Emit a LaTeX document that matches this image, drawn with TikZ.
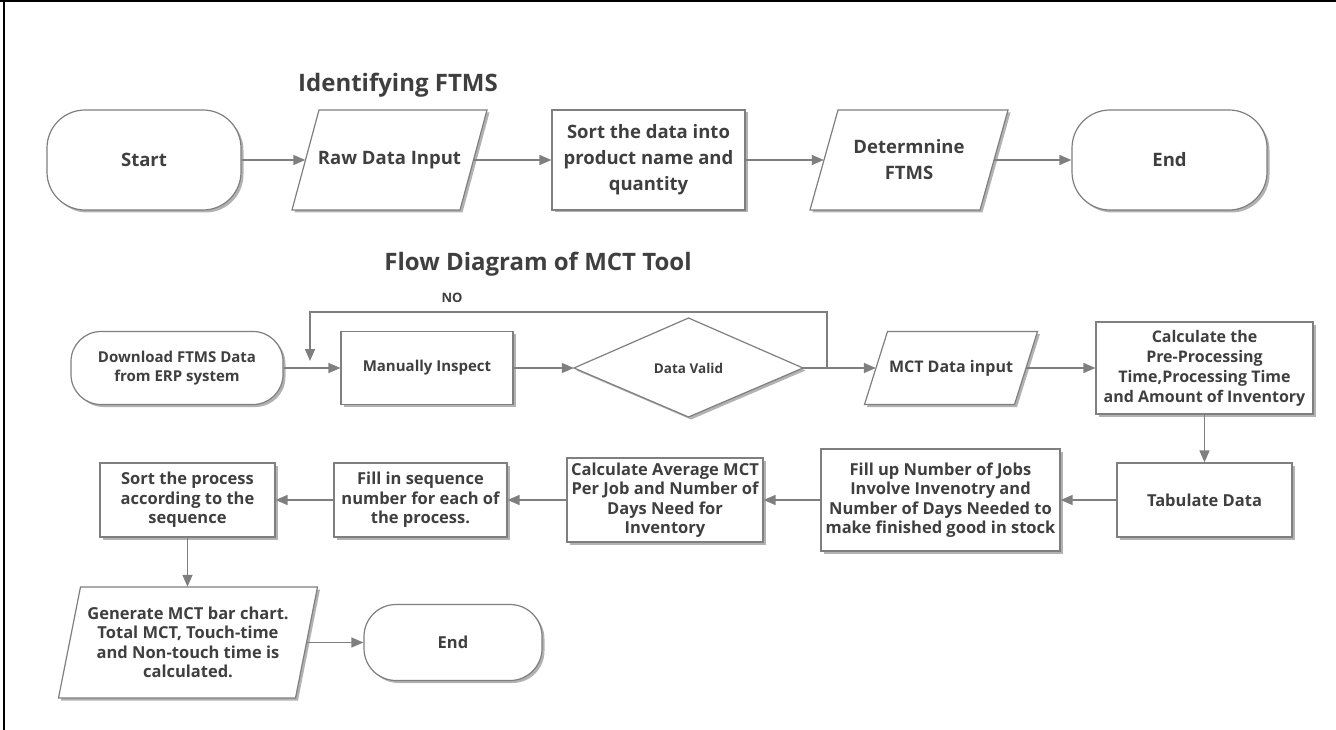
\documentclass[tikz,border=0pt]{standalone}
\usepackage{fontspec}
\setmainfont{Open Sans}
\usetikzlibrary{arrows.meta,shadows}
\definecolor{ln}{HTML}{7F7F7F}
\definecolor{tx}{HTML}{3F3F3F}
\tikzset{
  shd/.style={drop shadow={shadow xshift=2.5pt,shadow yshift=-2.5pt,opacity=0.3,fill=black}},
  boxline/.style={draw=ln, line width=1.2pt, fill=white},
  pbox/.style={boxline, shd, rectangle, align=center, inner sep=0pt, text=tx, font=\bfseries},
  term/.style={pbox, rounded corners=38pt},
  ghost/.style={rectangle, inner sep=0pt, align=center, text=tx, font=\bfseries},
  arr/.style={draw=ln, line width=1.4pt, -{Triangle[length=12pt,width=10pt]}},
  toprow/.style={font=\bfseries\fontsize{18.5}{26}\selectfont},
  midrow/.style={font=\bfseries\fontsize{16}{20}\selectfont},
  lowrow/.style={font=\bfseries\fontsize{16.5}{19.5}\selectfont},
  ttl/.style={text=tx, inner sep=0pt, font=\bfseries\fontsize{24}{28}\selectfont},
}
\newcommand\pgram[8]{%
  \draw[boxline,shd] ({#2-#4/2-#6/2},{#3+#5/2}) -- ({#2+#4/2-#6/2},{#3+#5/2}) -- ({#2+#4/2+#6/2},{#3-#5/2}) -- ({#2-#4/2+#6/2},{#3-#5/2}) -- cycle;
  \node[ghost,#7,minimum width=#4pt,minimum height=#5pt] (#1) at (#2,#3) {#8};}
\begin{document}
\begin{tikzpicture}[x=1pt,y=-1pt]
\useasboundingbox (0,0) rectangle (1336,730);
\fill[white] (0,0) rectangle (1336,730);
\draw[line width=1.5pt] (0,1) -- (1336,1);
\draw[line width=1.5pt] (4,0) -- (4,730);

% ---- Identifying FTMS ----
\node[ttl] (t1) at (398,85) {Identifying FTMS};
\node[term,toprow,minimum width=194pt,minimum height=100pt] (start) at (144,160) {Start};
\pgram{raw}{389.5}{160}{168}{100}{27}{toprow}{Raw Data Input}
\node[pbox,toprow,minimum width=193pt,minimum height=100pt] (sortd) at (648.5,160) {Sort the data into\\product name and\\quantity};
\pgram{det}{909}{160}{170}{100}{28}{toprow}{Determnine\\FTMS}
\node[term,toprow,minimum width=195pt,minimum height=100pt] (end1) at (1169.5,160) {End};
\draw[arr] (start) -- (raw);
\draw[arr] (raw) -- (sortd);
\draw[arr] (sortd) -- (det);
\draw[arr] (det) -- (end1);

% ---- Flow Diagram of MCT Tool ----
\node[ttl] (t2) at (538,264) {Flow Diagram of MCT Tool};
\node[text=tx,inner sep=0pt,font=\bfseries\fontsize{13}{15}\selectfont] (no) at (452,298) {NO};
\node[term,rounded corners=30pt,font=\bfseries\fontsize{15}{19}\selectfont,minimum width=212pt,minimum height=73pt] (dl) at (177,368) {Download FTMS Data\\from ERP system};
\node[pbox,font=\bfseries\fontsize{15}{18}\selectfont,minimum width=172pt,minimum height=73pt] (mi) at (427,368) {Manually Inspect};
\draw[boxline,shd] (574,368) -- (688.5,318) -- (803,368) -- (688.5,417) -- cycle;
\node[ghost,font=\bfseries\fontsize{13.5}{16}\selectfont,minimum width=229pt,minimum height=99pt] (dv) at (688.5,368) {Data Valid};
\pgram{mct}{951}{368}{150}{73}{23}{font=\bfseries\fontsize{16}{20}\selectfont}{MCT Data input}
\node[pbox,midrow,minimum width=217pt,minimum height=92pt] (calc) at (1204.5,368) {Calculate the\\Pre-Processing\\Time,Processing Time\\and Amount of Inventory};

\node[pbox,lowrow,minimum width=175pt,minimum height=74pt] (tab) at (1204.5,500) {Tabulate Data};
\node[pbox,lowrow,minimum width=239pt,minimum height=102pt] (fillup) at (940.5,500) {Fill up Number of Jobs\\Involve Invenotry and\\Number of Days Needed to\\make finished good in stock};
\node[pbox,lowrow,minimum width=196pt,minimum height=84pt] (avg) at (665,500) {Calculate Average MCT\\Per Job and Number of\\Days Need for\\Inventory};
\node[pbox,lowrow,minimum width=173pt,minimum height=74pt] (fillin) at (420.5,500) {Fill in sequence\\number for each of\\the process.};
\node[pbox,lowrow,minimum width=175pt,minimum height=74pt] (sortp) at (187.5,500) {Sort the process\\according to the\\sequence};
\pgram{gen}{188}{642.5}{237}{111}{22}{lowrow}{Generate MCT bar chart.\\Total MCT, Touch-time\\and Non-touch time is\\calculated.}
\node[term,rounded corners=32pt,lowrow,minimum width=178pt,minimum height=76pt] (end2) at (453,642.5) {End};

\coordinate (lpA) at (827,368);
\coordinate (lpT) at (310,312);
\coordinate (lpB) at (310,361);

\draw[arr] (dl) -- (mi);
\draw[arr] (mi) -- (dv);
\draw[arr] (dv) -- (mct);
\draw[arr] (lpA) |- (lpT) -- (lpB);
\draw[arr] (mct) -- (calc);
\draw[arr] (calc) -- (tab);
\draw[arr] (tab) -- (fillup);
\draw[arr] (fillup) -- (avg);
\draw[arr] (avg) -- (fillin);
\draw[arr] (fillin) -- (sortp);
\draw[arr] (sortp.south) -- (sortp.south |- gen.north);
\draw[arr] (gen) -- (end2);
\end{tikzpicture}
\end{document}
